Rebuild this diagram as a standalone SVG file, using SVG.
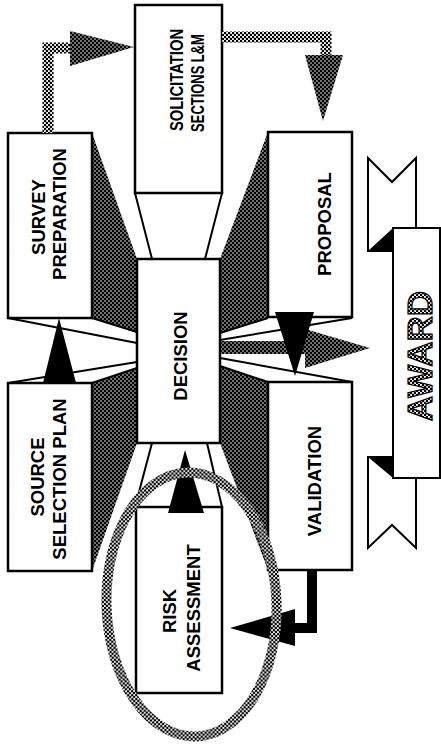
<svg xmlns="http://www.w3.org/2000/svg" width="441" height="754" viewBox="0 0 441 754">
<defs>
<pattern id="dk" width="4" height="4" patternUnits="userSpaceOnUse"><rect width="4" height="4" fill="#000"/><circle cx="1" cy="1" r="0.8" fill="#fff"/><circle cx="3" cy="3" r="0.8" fill="#fff"/></pattern>
<pattern id="gr" width="4" height="4" patternUnits="userSpaceOnUse"><rect width="4" height="4" fill="#fff"/><circle cx="1" cy="1" r="1.3" fill="#000"/><circle cx="3" cy="3" r="1.3" fill="#000"/></pattern>
</defs>
<style>
.box{fill:#fff;stroke:#000;stroke-width:2.5}
.lbl{font-family:"Liberation Sans",Arial,Helvetica,sans-serif;font-weight:bold;font-size:18.5px;fill:#000;text-anchor:middle}
.shade{fill:url(#dk)}
.wl{stroke:#000;stroke-width:2;fill:none}
.trap{fill:#fff;stroke:#000;stroke-width:2}
.blk{fill:#000}
.hd{fill:url(#dk)}
.rib{fill:#fff;stroke:#000;stroke-width:2;stroke-linejoin:miter}
</style>
<rect width="441" height="754" fill="#fff"/>
<g id="perspective">
<polygon class="shade" points="92,133 137,259 137,333 92,318"/>
<polygon class="shade" points="92,383 137,368 137,443 92,571"/>
<polygon class="shade" points="268,132 220,259 220,333 268,318"/>
<polygon class="shade" points="268,382 220,366 220,443 268,570"/>
<polygon class="trap" points="135,193 222,193 205,259 152,259"/>
<polygon class="trap" points="152,443 207,443 222,507 135,507"/>
<line class="wl" x1="92" y1="318" x2="137" y2="332"/>
<line class="wl" x1="8" y1="318" x2="137" y2="343"/>
<line class="wl" x1="8" y1="383" x2="137" y2="362"/>
<line class="wl" x1="92" y1="383" x2="137" y2="368"/>
<line class="wl" x1="268" y1="318" x2="220" y2="333"/>
<line class="wl" x1="352" y1="318" x2="220" y2="340"/>
<line class="wl" x1="352" y1="382" x2="220" y2="358"/>
<line class="wl" x1="268" y1="382" x2="220" y2="366"/>
</g>
<g id="survey">
<rect class="box" x="8" y="133" width="84" height="185"/>
<text class="lbl" transform="translate(45,217) rotate(-90)">SURVEY</text>
<text class="lbl" transform="translate(66,214) rotate(-90)">PREPARATION</text>
</g>
<g id="solicitation">
<rect class="box" x="135" y="5" width="87" height="188"/>
<text class="lbl" transform="translate(183,80) rotate(-90) scale(0.8,1)">SOLICITATION</text>
<text class="lbl" transform="translate(204,83) rotate(-90) scale(0.7,1)">SECTIONS L&amp;M</text>
</g>
<g id="proposal">
<rect class="box" x="268" y="132" width="84" height="185"/>
<text class="lbl" transform="translate(331,224) rotate(-90)">PROPOSAL</text>
</g>
<g id="decision">
<rect class="box" x="137" y="259" width="83" height="184"/>
<text class="lbl" transform="translate(187,356) rotate(-90)">DECISION</text>
</g>
<g id="source">
<rect class="box" x="8" y="383" width="84" height="188"/>
<text class="lbl" transform="translate(44,477) rotate(-90)">SOURCE</text>
<text class="lbl" transform="translate(66,479) rotate(-90)">SELECTION PLAN</text>
</g>
<g id="validation">
<rect class="box" x="268" y="382" width="84" height="188"/>
<text class="lbl" transform="translate(321,481) rotate(-90)">VALIDATION</text>
</g>
<g id="risk">
<rect class="box" x="136" y="507" width="86" height="186"/>
<text class="lbl" transform="translate(176,611) rotate(-90)">RISK</text>
<text class="lbl" transform="translate(200,608) rotate(-90)">ASSESSMENT</text>
</g>
<g id="award">
<polygon class="rib" points="368,158 392,182 416,158 416,251 368,251"/>
<polygon class="rib" points="368,457 416,457 416,548 392,525 368,548"/>
<rect class="rib" x="393" y="228" width="47" height="250"/>
<polygon class="blk" points="368,251 393,228 393,251"/>
<polygon class="blk" points="368,457 393,457 393,478"/>
<text transform="translate(432,356) rotate(-90)" font-family="'Liberation Sans',Arial,sans-serif" font-weight="bold" font-size="35" text-anchor="middle" fill="url(#gr)" stroke="#000" stroke-width="1.2">AWARD</text>
</g>
<g id="connectors">
<path d="M48,133 V48 H74" fill="none" stroke="url(#gr)" stroke-width="11"/>
<polygon class="hd" points="70,31 70,66 134,47"/>
<path d="M222,37 H326 V58" fill="none" stroke="url(#gr)" stroke-width="11"/>
<polygon class="hd" points="305,55 343,55 323,121"/>
<path d="M312,570 V628 H290" fill="none" stroke="#000" stroke-width="10"/>
<polygon class="blk" points="295,609 295,646 230,628"/>
<rect class="hd" x="221" y="341" width="88" height="13"/>
<polygon class="hd" points="305,329 305,368 370,348"/>
<polygon class="blk" points="275,312 314,312 295,376"/>
<polygon class="blk" points="59,318 43,383 76,383"/>
<polygon class="blk" points="185,450 168,513 204,513"/>
</g>
<g id="highlight">
<ellipse cx="191.5" cy="604.5" rx="85" ry="132" fill="none" stroke="url(#gr)" stroke-width="10" transform="rotate(-2 191.5 604.5)"/>
</g>
</svg>
